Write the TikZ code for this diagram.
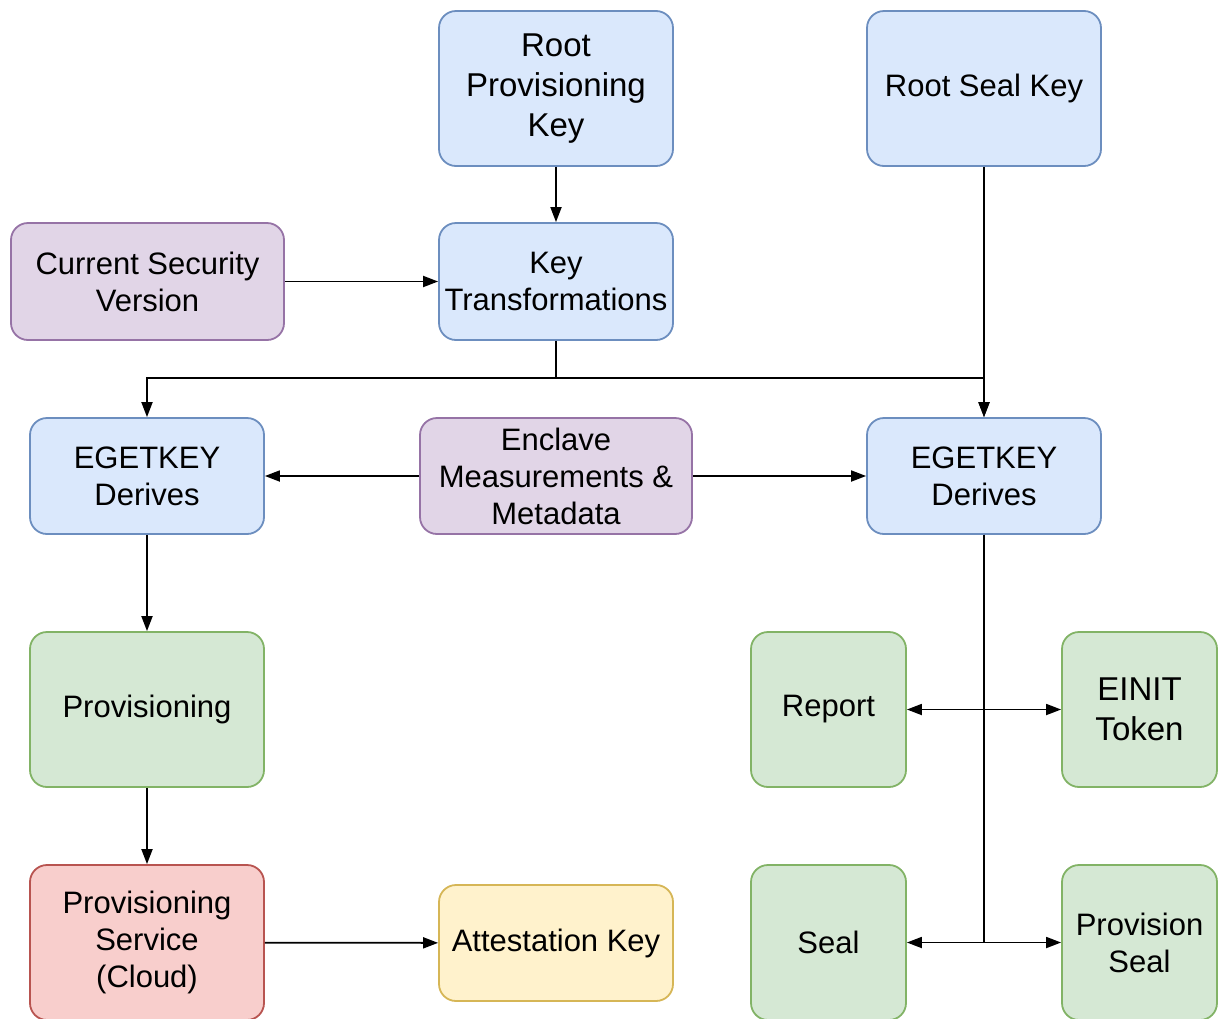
\documentclass[tikz,border=0pt]{standalone}
\usepackage{fontspec}
\setmainfont{Liberation Sans}
\usepackage{tikz}
\usetikzlibrary{arrows.meta}
\usepackage{xcolor}

\definecolor{bluefill}{HTML}{DAE8FC}
\definecolor{blueline}{HTML}{6C8EBF}
\definecolor{purplefill}{HTML}{E1D5E7}
\definecolor{purpleline}{HTML}{9673A6}
\definecolor{greenfill}{HTML}{D5E8D4}
\definecolor{greenline}{HTML}{82B366}
\definecolor{redfill}{HTML}{F8CECC}
\definecolor{redline}{HTML}{B85450}
\definecolor{yellowfill}{HTML}{FFF2CC}
\definecolor{yellowline}{HTML}{D6B656}

\begin{document}
\begin{tikzpicture}[x=1pt, y=-1pt,
		box/.style={draw, rounded corners=17pt, line width=1.8pt, align=center, inner sep=0pt,
			font=\fontsize{31}{37}\selectfont},
		bigtext/.style={font=\fontsize{33}{40}\selectfont},
		keybox/.style={box, fill=bluefill, draw=blueline},
		inbox/.style={box, fill=purplefill, draw=purpleline},
		outbox/.style={box, fill=greenfill, draw=greenline},
		cloudbox/.style={box, fill=redfill, draw=redline},
		attbox/.style={box, fill=yellowfill, draw=yellowline},
		arr/.style={line width=1.8pt, -{Triangle[length=15pt,width=11pt]}}]
		\clip (0,0) rectangle (1218,1018);
		% keys at the top
		\node[keybox, bigtext, minimum width=234pt, minimum height=155pt] (rpk) at (556,88.5) {Root\\Provisioning\\Key};
		\node[keybox, minimum width=234pt, minimum height=155pt] (rsk) at (984,88.5) {Root Seal Key};
		\node[inbox, minimum width=273pt, minimum height=117pt] (csv) at (147.5,281.5) {Current Security\\Version};
		\node[keybox, minimum width=234pt, minimum height=117pt] (kt) at (556,281.5) {Key\\Transformations};
		% derivation
		\node[keybox, minimum width=234pt, minimum height=116pt] (egl) at (147,476) {EGETKEY\\Derives};
		\node[inbox, minimum width=272pt, minimum height=116pt] (enc) at (556,476) {Enclave\\Measurements \&\\Metadata};
		\node[keybox, minimum width=234pt, minimum height=116pt] (egr) at (984,476) {EGETKEY\\Derives};
		% derived keys
		\node[outbox, minimum width=234pt, minimum height=155pt] (prov) at (147,709.5) {Provisioning};
		\node[outbox, minimum width=155pt, minimum height=155pt] (rep) at (828.5,709.5) {Report};
		\node[outbox, bigtext, minimum width=155pt, minimum height=155pt] (einit) at (1139.5,709.5) {EINIT\\Token};
		\node[cloudbox, minimum width=234pt, minimum height=155pt] (psc) at (147,942.5) {Provisioning\\Service\\(Cloud)};
		\node[attbox, minimum width=234pt, minimum height=116pt] (att) at (556,943) {Attestation Key};
		\node[outbox, minimum width=155pt, minimum height=155pt] (seal) at (828.5,942.5) {Seal};
		\node[outbox, minimum width=155pt, minimum height=155pt] (pseal) at (1139.5,942.5) {Provision\\Seal};

		\coordinate (split) at (556,378);

		\draw[arr] (rpk) -- (kt);
		\draw[arr] (csv) -- (kt);
		\draw[arr] (kt) -- (split) -| (egl);
		\draw[arr] (split) -| (egr);
		\draw[arr] (rsk) -- (egr);
		\draw[arr] (enc) -- (egl);
		\draw[arr] (enc) -- (egr);
		\draw[arr] (egl) -- (prov);
		\draw[arr] (prov) -- (psc);
		\draw[arr] (psc) -- (att);
		\draw[arr] (egr) |- (rep);
		\draw[arr] (egr) |- (einit);
		\draw[arr] (egr) |- (seal);
		\draw[arr] (egr) |- (pseal);
		\end{tikzpicture}
\end{document}
